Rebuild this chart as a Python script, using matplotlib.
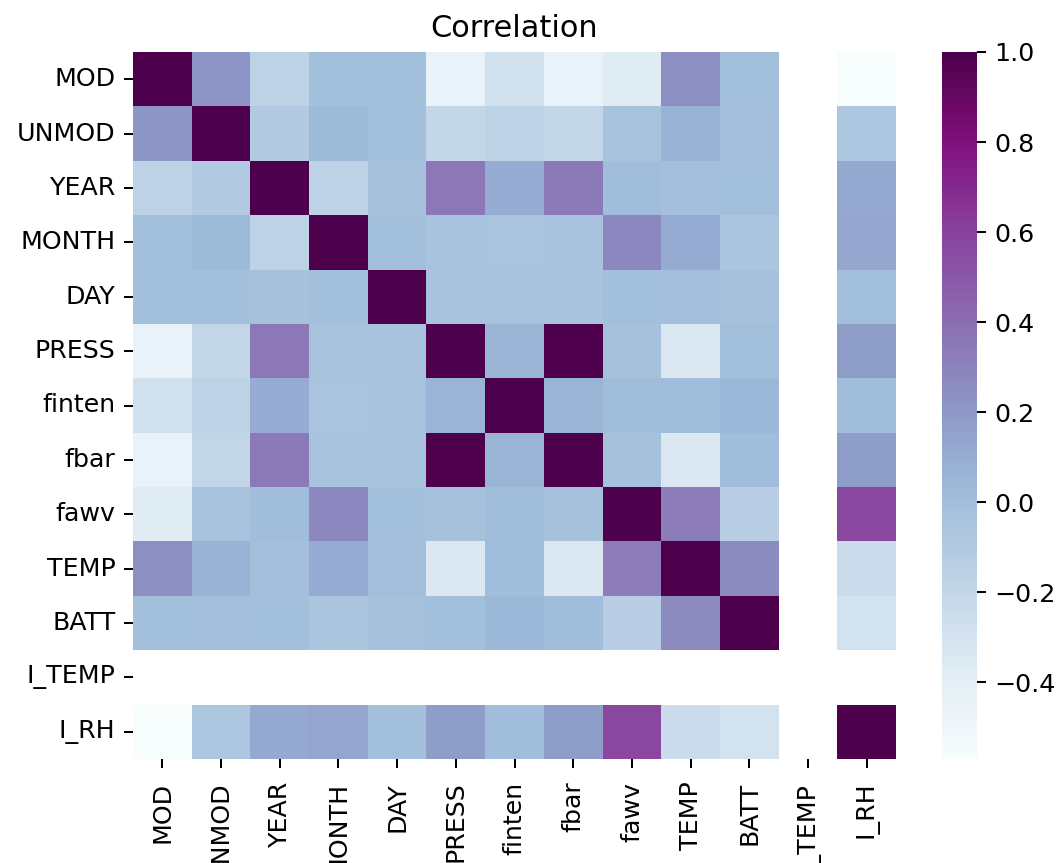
import numpy as np
import pandas as pd
import matplotlib
matplotlib.use("Agg")
import matplotlib.pyplot as plt
import seaborn as sns

nan = np.nan

labels = ["MOD", "UNMOD", "YEAR", "MONTH", "DAY", "PRESS", "finten",
          "fbar", "fawv", "TEMP", "BATT", "I_TEMP", "I_RH"]

# correlation rows (I_TEMP is constant -> NaN)
mod    = [1.00, 0.22, -0.17, 0.00, 0.00, -0.45, -0.28, -0.45, -0.37, 0.25, 0.00, nan, -0.57]
unmod  = [0.22, 1.00, -0.10, 0.03, 0.00, -0.20, -0.17, -0.20, -0.03, 0.07, -0.01, nan, -0.07]
year   = [-0.17, -0.10, 1.00, -0.17, -0.02, 0.35, 0.10, 0.34, 0.01, -0.01, 0.00, nan, 0.12]
month  = [0.00, 0.03, -0.17, 1.00, 0.00, -0.04, -0.05, -0.04, 0.28, 0.11, -0.06, nan, 0.13]
day    = [0.00, 0.00, -0.02, 0.00, 1.00, -0.04, -0.03, -0.04, 0.00, -0.01, -0.02, nan, 0.00]
press  = [-0.45, -0.20, 0.35, -0.04, -0.04, 1.00, 0.06, 0.99, -0.02, -0.34, 0.00, nan, 0.18]
finten = [-0.28, -0.17, 0.10, -0.05, -0.03, 0.06, 1.00, 0.06, 0.01, 0.01, 0.04, nan, 0.01]
fbar   = [-0.45, -0.20, 0.34, -0.04, -0.04, 0.99, 0.06, 1.00, -0.02, -0.34, 0.01, nan, 0.18]
fawv   = [-0.37, -0.03, 0.01, 0.28, 0.00, -0.02, 0.01, -0.02, 1.00, 0.33, -0.14, nan, 0.58]
temp   = [0.25, 0.07, -0.01, 0.11, -0.01, -0.34, 0.01, -0.34, 0.33, 1.00, 0.27, nan, -0.24]
batt   = [0.00, -0.01, 0.00, -0.06, -0.02, 0.00, 0.04, 0.01, -0.14, 0.27, 1.00, nan, -0.30]
i_temp = [nan] * 13
i_rh   = [-0.57, -0.07, 0.12, 0.13, 0.00, 0.18, 0.01, 0.18, 0.58, -0.24, -0.30, nan, 1.00]

corr = pd.DataFrame([mod, unmod, year, month, day, press, finten, fbar,
                     fawv, temp, batt, i_temp, i_rh],
                    index=labels, columns=labels)

W, H, DPI = 1063, 863, 182
fig = plt.figure(figsize=(W / DPI, H / DPI), dpi=DPI)
ax = fig.add_axes([133 / W, 1 - 759 / H, (896 - 133) / W, (759 - 52) / H])
cax = fig.add_axes([942 / W, 1 - 759 / H, 35 / W, (759 - 52) / H])

sns.heatmap(corr, cmap="BuPu", ax=ax, cbar_ax=cax)
ax.set_title("Correlation")
ax.set_xticklabels(labels, rotation=90)
ax.set_yticklabels(labels, rotation=0)
ax.tick_params(axis="x", pad=5.5)

fig.savefig("out.png", dpi=DPI)
